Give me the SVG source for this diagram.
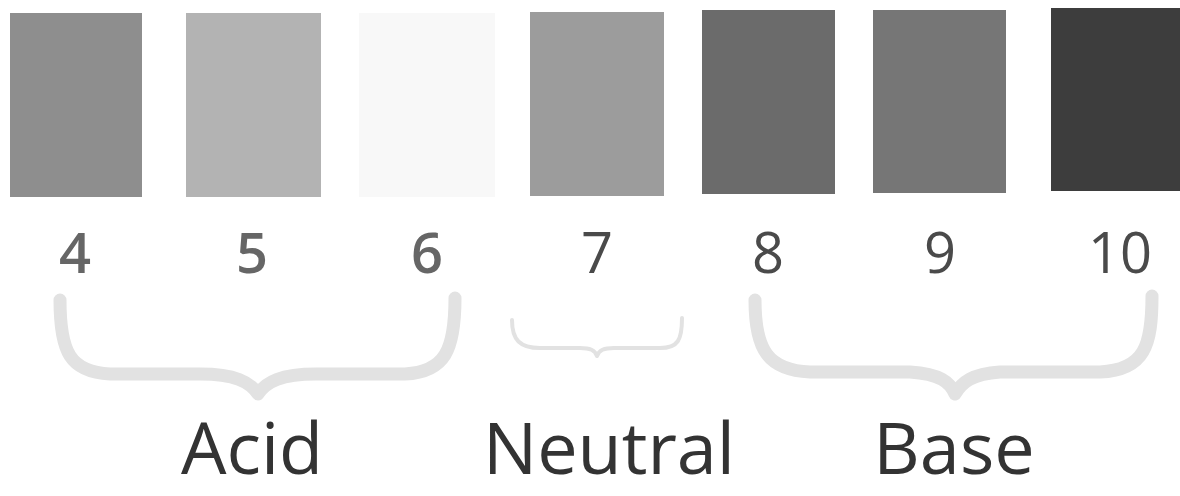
<svg xmlns="http://www.w3.org/2000/svg" width="1180" height="496" viewBox="0 0 1180 496">
<style>
.num{font-family:"Open Sans","Noto Sans",sans-serif;font-size:56px;fill:#4a4a4a;text-anchor:middle}
.b{font-weight:600;fill:#666}
.lbl{font-family:"Open Sans","Noto Sans",sans-serif;font-size:72px;fill:#333;text-anchor:middle}
.brace{fill:none;stroke:#e2e2e2;stroke-linecap:round;stroke-linejoin:round}
.sw{stroke:none}
</style>
<rect width="1180" height="496" fill="#ffffff"/>
<g id="swatch-4"><rect class="sw" x="10" y="13" width="132" height="184" fill="#8e8e8e"/><text class="num b" x="75" y="273">4</text></g>
<g id="swatch-5"><rect class="sw" x="186" y="13" width="135" height="184" fill="#b3b3b3"/><text class="num b" x="252" y="273">5</text></g>
<g id="swatch-6"><rect class="sw" x="359" y="13" width="136" height="184" fill="#f8f8f8"/><text class="num b" x="427" y="273">6</text></g>
<g id="swatch-7"><rect class="sw" x="530" y="12" width="134" height="184" fill="#9c9c9c"/><text class="num" x="597" y="273">7</text></g>
<g id="swatch-8"><rect class="sw" x="702" y="10" width="133" height="184" fill="#6b6b6b"/><text class="num" x="768" y="273">8</text></g>
<g id="swatch-9"><rect class="sw" x="873" y="10" width="133" height="183" fill="#767676"/><text class="num" x="940" y="273">9</text></g>
<g id="swatch-10"><rect class="sw" x="1051" y="8" width="129" height="183" fill="#3d3d3d"/><text class="num" x="1120" y="273">10</text></g>
<g id="connectors">
<path class="brace" stroke-width="13" d="M60,300 C60,352 70,372 110,374 L200,374 C235,374 250,382 258,394 C266,382 281,374 316,374 L405,374 C445,372 455,350 455,298"/>
<path class="brace" stroke-width="4" d="M512,320 C512,340 520,348 540,348 L580,348 C590,348 595,350 597,356 C599,350 604,348 614,348 L660,348 C678,348 682,340 682,318"/>
<path class="brace" stroke-width="13" d="M755,300 C755,350 768,370 810,372 L910,372 C940,374 950,382 955,394 C962,382 972,374 1000,372 L1100,372 C1145,370 1152,345 1152,296"/>
</g>
<g id="label-acid"><text class="lbl" x="252" y="474">Acid</text></g>
<g id="label-neutral"><text class="lbl" x="609" y="474">Neutral</text></g>
<g id="label-base"><text class="lbl" x="954" y="474">Base</text></g>
</svg>
